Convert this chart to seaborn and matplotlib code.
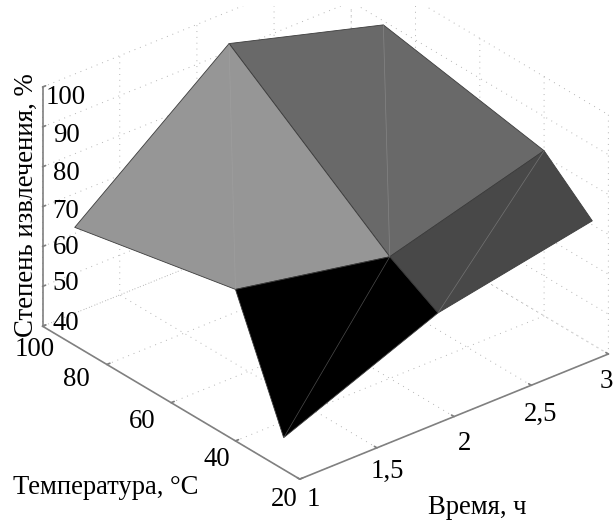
import matplotlib
matplotlib.use('Agg')
import matplotlib.pyplot as plt
from matplotlib.patches import Rectangle
import numpy as np
import seaborn as sns

# Data
time_h = [1, 2, 3]
temp_c = [25, 40, 90]
extraction_t25 = [48, 63.6, 71]
extraction_t40 = [78, 70.5, 81.4]
extraction_t90 = [69.6, 100, 89]
face_greys = ['#000000', '#484848', '#969696', '#696969']

time_ticks = [1, 1.5, 2, 2.5, 3]
time_labels = ['1', '1,5', '2', '2,5', '3']
temp_ticks = [20, 40, 60, 80, 100]
temp_labels = ['20', '40', '60', '80', '100']
ext_ticks = [40, 50, 60, 70, 80, 90, 100]
ext_labels = ['40', '50', '60', '70', '80', '90', '100']

# label centres in pixels, the original places them by hand
time_label_xy = [(313, 500), (387, 471), (465, 443), (541, 414), (606, 382)]
temp_label_xy = [(284, 500), (217, 460), (142, 421), (76, 379), (35, 350)]
ext_label_xy = [(66, 323), (66, 284), (66, 247), (66, 211), (66, 173), (66, 136), (66, 98)]

sns.set_theme(style='white')
plt.rcParams['font.family'] = ['Liberation Serif', 'DejaVu Serif']

W, H = 613, 521
fig = plt.figure(figsize=(W / 100, H / 100), dpi=100)
ax = fig.add_axes([10.7 / W, -14.3 / H, 613 / W, 613 / H], projection='3d',
                  proj_type='ortho', computed_zorder=False)
ax.patch.set_alpha(0)
ax.view_init(elev=29.4, azim=-129.55)
ax.set_box_aspect((400, 403.6, 274.4))

X, Y = np.meshgrid(time_h, temp_c)
Z = np.array([extraction_t25, extraction_t40, extraction_t90])

colors = np.empty((2, 2), dtype=object)
colors[0, 0], colors[0, 1] = face_greys[0], face_greys[1]
colors[1, 0], colors[1, 1] = face_greys[2], face_greys[3]

ax.plot_surface(X, Y, Z, facecolors=colors, shade=False, rstride=1, cstride=1,
                edgecolor='#3c3c3c', linewidth=0.6, zorder=3)

# light seams along the diagonals of each facet
for i in range(2):
    for j in range(2):
        ax.plot([X[i + 1, j + 1], X[i, j]], [Y[i + 1, j + 1], Y[i, j]],
                [Z[i + 1, j + 1], Z[i, j]], color='#a8a8a8', lw=0.5, alpha=0.45, zorder=4)

ax.set_xlim(1, 3, view_margin=0)
ax.set_ylim(20, 100, view_margin=0)
ax.set_zlim(40, 100, view_margin=0)
ax.set_xticks(time_ticks)
ax.set_yticks(temp_ticks)
ax.set_zticks(ext_ticks)
ax.set_xticklabels([])
ax.set_yticklabels([])
ax.set_zticklabels([])

for axis in (ax.xaxis, ax.yaxis, ax.zaxis):
    axis.set_pane_color((1, 1, 1, 0))
    axis.pane.set_edgecolor((1, 1, 1, 0))
    axis.line.set_color('#808080')
    axis.line.set_linewidth(1.2)
    axis._axinfo['grid'].update(color='#b4b4b4', linewidth=0.7, linestyle=(0, (1, 5)))
    axis._axinfo['tick'].update(inward_factor=0.0, outward_factor=0.12)
ax.tick_params(color='#808080', width=0.8)
ax.grid(True)

# the source image is trimmed just above the top of the grid
fig.add_artist(Rectangle((0, 1 - 6 / H), 1, 6 / H, transform=fig.transFigure,
                         facecolor='white', edgecolor='none', zorder=5))


def px_text(x, y, s, **kw):
    fig.text(x / W, 1 - y / H, s, ha='center', va='center', color='black', **kw)


for (x, y), s in zip(time_label_xy, time_labels):
    px_text(x, y, s, fontsize=19.3)
for (x, y), s in zip(temp_label_xy, temp_labels):
    px_text(x, y, s, fontsize=19.3)
for (x, y), s in zip(ext_label_xy, ext_labels):
    px_text(x, y, s, fontsize=19.3)

px_text(106, 487, 'Температура, °C', fontsize=19.2)
px_text(477, 507, 'Время, ч', fontsize=19.2)
px_text(26, 205, 'Степень извлечения, %', fontsize=19.3, rotation=90)

fig.savefig('out.png', dpi=100)
